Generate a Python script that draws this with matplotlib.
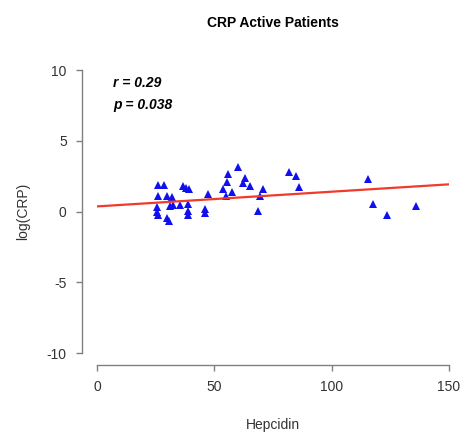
import matplotlib
matplotlib.use("Agg")
import matplotlib.pyplot as plt

plt.rcParams['font.family'] = ['Liberation Sans', 'DejaVu Sans']
plt.rcParams['axes.unicode_minus'] = False

# Hepcidin vs log(CRP)
hepcidin = [26.1, 28.7, 26.1, 29.7, 31.8, 25.4, 25.4, 26.1, 29.7, 30.8,
            31.1, 32.5, 36.8, 39.3, 37.9, 35.4, 38.9, 38.9, 38.9, 46.0,
            46.0, 47.4, 53.8, 55.9, 55.3, 57.4, 55.0, 59.9, 63.1, 62.3,
            65.2, 70.9, 69.4, 68.7, 81.8, 84.7, 86.1, 115.6, 117.7, 123.4,
            135.8]
log_crp = [1.89, 1.89, 1.13, 1.08, 1.01, 0.30, -0.05, -0.23, -0.47, -0.64,
           0.42, 0.47, 1.77, 1.60, 1.63, 0.47, 0.54, 0.07, -0.28, 0.19,
           -0.09, 1.25, 1.60, 2.66, 2.12, 1.36, 1.08, 3.13, 2.35, 2.03,
           1.79, 1.60, 1.13, 0.07, 2.78, 2.49, 1.72, 2.31, 0.54, -0.23,
           0.37]

# regression line
intercept = 0.36
slope = 0.0104
line_x = [0, 150]

x_ticks = [0, 50, 100, 150]
y_ticks = [-10, -5, 0, 5, 10]

fig = plt.figure(figsize=(4.65, 4.37), dpi=100)
ax = fig.add_axes([0.2086, 0.1922, 0.757, 0.6476])

ax.plot(hepcidin, log_crp, linestyle='none', marker='^', color='#1010ee',
        markersize=6, markeredgewidth=0)
ax.plot(line_x, [intercept + slope * x for x in line_x], color='#f03a2a', linewidth=1.6)

ax.set_xlim(0, 150)
ax.set_ylim(-10, 10)
ax.set_xticks(x_ticks)
ax.set_yticks(y_ticks)

# R-style detached axes
for side in ['top', 'right']:
    ax.spines[side].set_visible(False)
ax.spines['left'].set_position(('outward', 10.8))
ax.spines['bottom'].set_position(('outward', 8.6))
ax.spines['left'].set_bounds(-10, 10)
ax.spines['bottom'].set_bounds(0, 150)
for side in ['left', 'bottom']:
    ax.spines[side].set_color('#808080')
    ax.spines[side].set_linewidth(1.0)
ax.tick_params(colors='#808080', length=4, width=1.0, labelcolor='#333333',
               labelsize=10, pad=7)

ax.set_xlabel('Hepcidin', fontsize=10, color='#333333', labelpad=17)
ax.set_ylabel('log(CRP)', fontsize=10, color='#333333', labelpad=12)
ax.set_title('CRP Active Patients', fontsize=10, fontweight='bold', pad=31)

ax.text(7, 9.1, 'r = 0.29', fontsize=10, fontweight='bold', style='italic', va='center')
ax.text(7, 7.55, 'p = 0.038', fontsize=10, fontweight='bold', style='italic', va='center')

fig.savefig('out.png', dpi=100)
